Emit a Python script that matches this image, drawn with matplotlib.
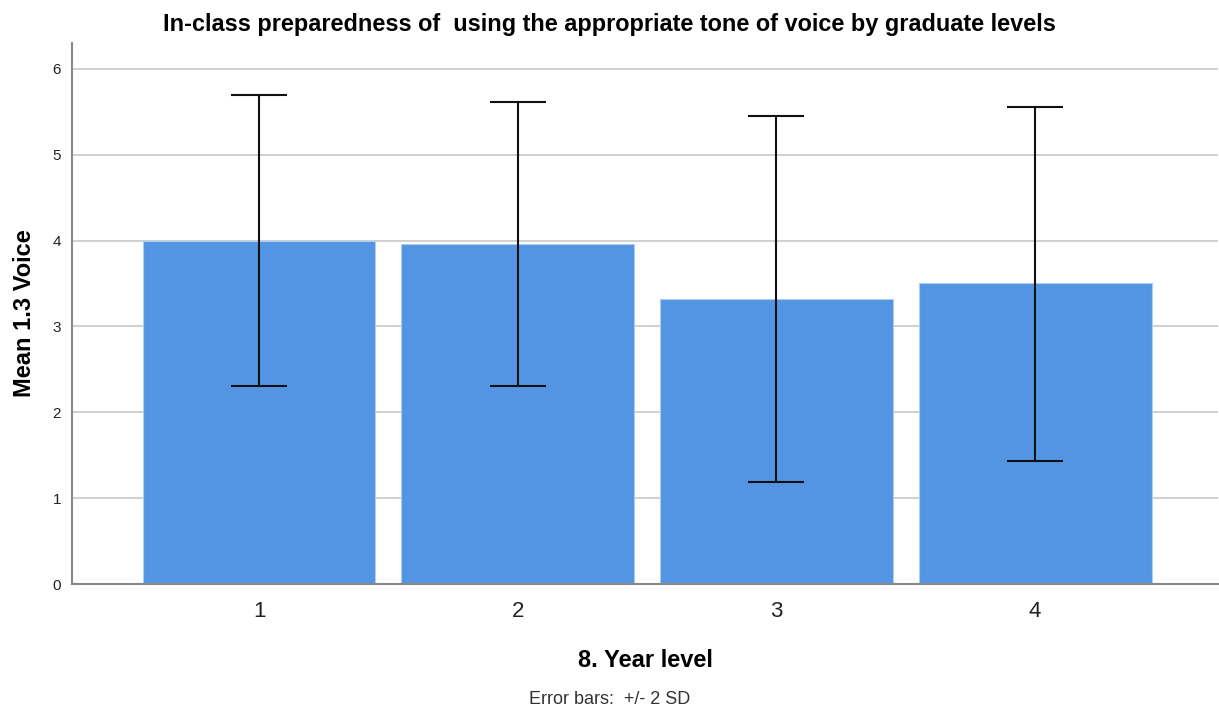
import numpy as np
import matplotlib.pyplot as plt

plt.rcParams['font.family'] = ['Liberation Sans', 'DejaVu Sans']

year_levels = [1, 2, 3, 4]
mean_voice = [4.00, 3.96, 3.32, 3.50]
upper = [5.69, 5.61, 5.45, 5.56]
lower = [2.31, 2.31, 1.19, 1.43]

fig = plt.figure(figsize=(12.19, 7.14), dpi=100)
ax = fig.add_axes([72/1219, 130/714, 1146/1219, 541/714])

x = np.array(year_levels)
means = np.array(mean_voice)
yerr = [means - np.array(lower), np.array(upper) - means]

ax.bar(x, means, width=0.9, color='#5495e3', edgecolor='#a9cdf5', linewidth=0.8, zorder=2)
ax.errorbar(x, means, yerr=yerr, fmt='none', ecolor='#111111', elinewidth=1.5,
            capsize=20, capthick=1.5, zorder=3)

ax.set_xlim(0.277, 4.707)
ax.set_ylim(0, 6.3)
ax.set_yticks([0, 1, 2, 3, 4, 5, 6])
ax.set_xticks(x)
ax.set_xticklabels([str(v) for v in year_levels], fontsize=16, color='#222222')
ax.tick_params(axis='y', length=0, labelsize=11, pad=8, labelcolor='#222222')
ax.tick_params(axis='x', length=0, pad=12)
ax.grid(axis='y', color='#c8c8c8', linewidth=1.2, zorder=0)
ax.set_axisbelow(True)

for s in ['top', 'right']:
    ax.spines[s].set_visible(False)
for s in ['left', 'bottom']:
    ax.spines[s].set_color('#888888')
    ax.spines[s].set_linewidth(1.5)

ax.set_ylabel('Mean 1.3 Voice', fontsize=17, fontweight='bold', labelpad=12)
ax.set_xlabel('8. Year level', fontsize=17, fontweight='bold', labelpad=20)

fig.text(0.5, 1 - 25/714, 'In-class preparedness of  using the appropriate tone of voice by graduate levels',
         ha='center', va='center', fontsize=16.9, fontweight='bold')
fig.text(0.5, 1 - 700/714, 'Error bars:  +/- 2 SD', ha='center', va='center', fontsize=13,
         color='#333333')

fig.savefig('out.png', dpi=100)
